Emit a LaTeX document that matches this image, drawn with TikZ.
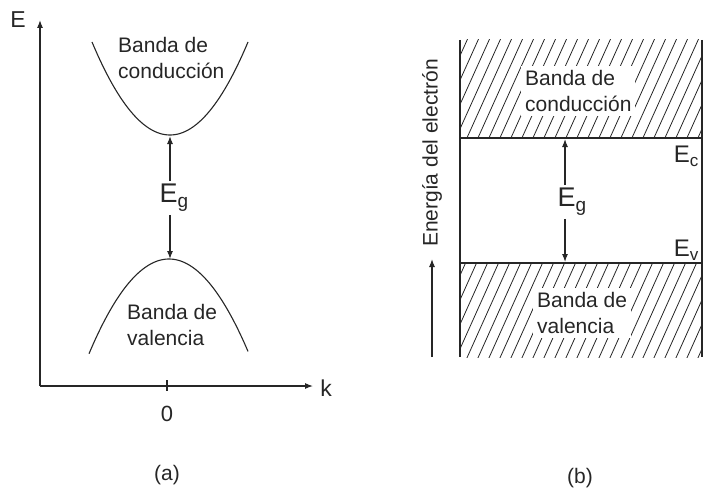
\documentclass[tikz,border=0pt]{standalone}
\usepackage{fontspec}
\setmainfont{Liberation Sans}
\usetikzlibrary{arrows.meta}
\begin{document}
\begin{tikzpicture}[x=1pt,y=-1pt,
  ln/.style={line width=1.1pt, draw=black!85},
  tip/.style={-{Latex[length=8pt,width=6pt]}},
  hatch/.style={line width=0.8pt, draw=black!85},
  lbl/.style={font=\fontsize{21}{26}\selectfont, text=black!85, inner sep=0pt, align=left},
  wlbl/.style={lbl, fill=white, inner sep=4pt},
  eglbl/.style={text=black!85, inner sep=3pt},
]
\useasboundingbox (0,0) rectangle (703,492);

% ---------- (a) ----------
\coordinate (O) at (40,386);
\coordinate (Etop) at (40,20);
\coordinate (Kend) at (313,386);
\coordinate (t1) at (167,380);
\coordinate (t2) at (167,391);
\draw[ln,tip] (O) -- (Etop);
\draw[ln,tip] (O) -- (Kend);
\draw[ln] (t1) -- (t2);
\node[lbl,font=\fontsize{23}{26}\selectfont] (Elbl) at (18,20) {E};
\node[lbl,font=\fontsize{23}{26}\selectfont] (klbl) at (326,388) {k};
\node[lbl,font=\fontsize{22}{24}\selectfont] (zero) at (167,414) {0};
\node[lbl,font=\fontsize{21}{24}\selectfont] (capa) at (167,475) {(a)};

\draw[ln] plot[domain=-78:78,samples=80] ({170+\x},{135-0.01529*\x*\x});
\draw[ln] plot[domain=-80:79,samples=80] ({169+\x},{259+0.01480*\x*\x});
\coordinate (cmin) at (170,136);
\coordinate (vmax) at (170,259);

\node[lbl,anchor=west] (cba) at (118,58) {Banda de\\conducción};
\node[lbl,anchor=west] (vba) at (127,325) {Banda de\\valencia};

\node[eglbl] (Ega) at (174,198) {\fontsize{27}{27}\selectfont E\raisebox{-5pt}{\fontsize{19}{19}\selectfont g}};
\draw[ln,tip] (Ega.north -| cmin) -- (cmin);
\draw[ln,tip] (Ega.south -| vmax) -- (vmax);

% ---------- (b) ----------
\coordinate (r1) at (460,40);
\coordinate (r2) at (702,40);
\coordinate (r3) at (460,357);
\coordinate (r4) at (702,357);
\coordinate (c1) at (460,138);
\coordinate (c2) at (702,138);
\coordinate (v1) at (460,263);
\coordinate (v2) at (702,263);

\begin{scope}
  \clip (r1) rectangle (c2);
  \foreach \x in {400,411,...,720} \draw[hatch] (\x,140) -- ++(46,-102);
\end{scope}
\begin{scope}
  \clip (v1) rectangle (r4);
  \foreach \x in {400,411,...,720} \draw[hatch] (\x,360) -- ++(44,-98);
\end{scope}

\node[wlbl,anchor=west] (cbb) at (521,91) {Banda de\\conducción};
\node[wlbl,anchor=west] (vbb) at (533,313) {Banda de\\valencia};

\draw[ln] (r1) -- (r3);
\draw[ln] (r2) -- (r4);
\draw[ln] (c1) -- (c2);
\draw[ln] (v1) -- (v2);

\node[eglbl] (Ec) at (686,156) {\fontsize{24}{24}\selectfont E\raisebox{-4pt}{\fontsize{17}{17}\selectfont c}};
\node[eglbl] (Ev) at (686,250) {\fontsize{24}{24}\selectfont E\raisebox{-4pt}{\fontsize{17}{17}\selectfont v}};

\coordinate (cb1) at (565,139);
\coordinate (cb2) at (565,262);
\node[eglbl] (Egb) at (572,202) {\fontsize{27}{27}\selectfont E\raisebox{-5pt}{\fontsize{19}{19}\selectfont g}};
\draw[ln,tip] (Egb.north -| cb1) -- (cb1);
\draw[ln,tip] (Egb.south -| cb2) -- (cb2);

\coordinate (ea1) at (432,357);
\coordinate (ea2) at (432,259);
\draw[ln,tip] (ea1) -- (ea2);
\node[lbl,rotate=90] (elab) at (432,153) {Energía del electrón};
\node[lbl,font=\fontsize{21}{24}\selectfont] (capb) at (580,478) {(b)};
\end{tikzpicture}
\end{document}
